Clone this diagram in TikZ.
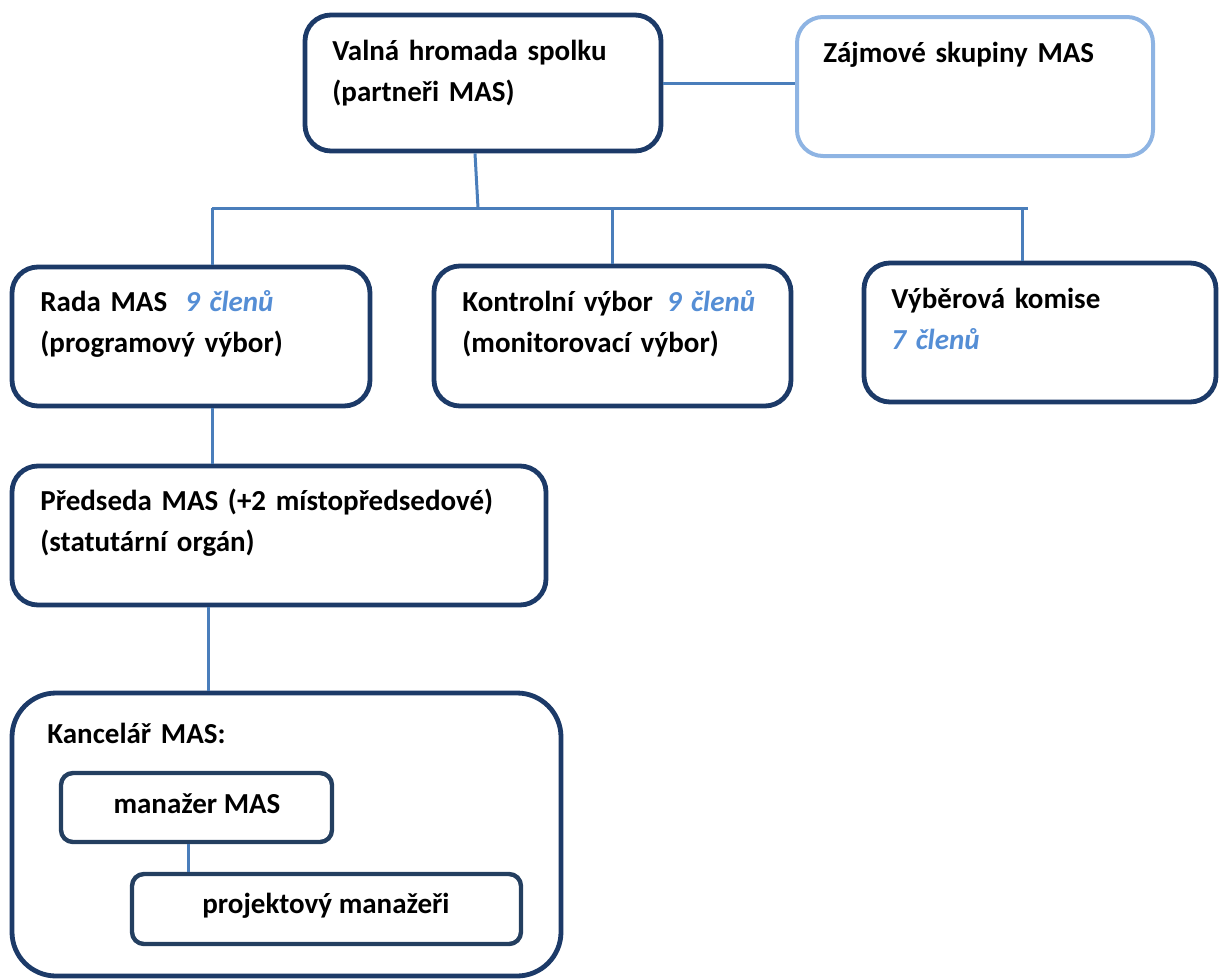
\documentclass[tikz,border=0pt]{standalone}
\usepackage{fontspec}
\setmainfont{Carlito}
\usepackage{xcolor}
\usepackage{tikz}
\usetikzlibrary{positioning,calc}

\definecolor{boxnavy}{HTML}{1C3A68}
\definecolor{innernavy}{HTML}{243F60}
\definecolor{linkblue}{HTML}{4A7EBB}
\definecolor{paleblue}{HTML}{8EB4E3}
\definecolor{countblue}{HTML}{558ED5}
\newcommand{\members}[1]{{\color{countblue}\itshape #1}}

\begin{document}
\begin{tikzpicture}[x=0.5pt,y=-0.5pt,
    box/.style={draw=boxnavy,line width=2.4pt,rounded corners=13pt,inner sep=0pt},
    link/.style={draw=linkblue,line width=1.5pt},
    lbl/.style={anchor=base west,inner sep=0pt,align=left,text width=300pt,
        font=\bfseries\fontsize{14.5}{20.5}\selectfont}]
\useasboundingbox (0,0) rectangle (1221,980);

% Top level
\node[box,minimum width=178pt,minimum height=68pt] (valna) at (483,83) {};
\node[box,draw=paleblue,line width=2pt,minimum width=178pt,minimum height=69.5pt] (zajmove) at (975,86.5) {};
\node[lbl] (valna_t) at (332,60) {Valná hromada spolku\\(partneři MAS)};
\node[lbl] (zajmove_t) at (823,62) {Zájmové skupiny MAS};

% Bodies of the association
\node[box,minimum width=179pt,minimum height=69.5pt] (rada) at (191,336.5) {};
\node[box,minimum width=178.5pt,minimum height=70pt] (kontrol) at (612.5,336) {};
\node[box,minimum width=176pt,minimum height=69.5pt] (vyber) at (1040,332.5) {};
\node[lbl] (rada_t) at (40,311) {Rada MAS\hspace{9pt}\members{9 členů}\\(programový výbor)};
\node[lbl] (kontrol_t) at (462,311) {Kontrolní výbor\hspace{7pt}\members{9 členů}\\(monitorovací výbor)};
\node[lbl] (vyber_t) at (891,308) {Výběrová komise\\\members{7 členů}};

% Chairman
\node[box,minimum width=267pt,minimum height=69.5pt] (predseda) at (279,535.5) {};
\node[lbl] (predseda_t) at (40,510) {Předseda MAS (+2 místopředsedové)\\(statutární orgán)};

% Office
\node[box,rounded corners=22pt,minimum width=274.5pt,minimum height=141.5pt] (kancelar) at (286.5,834.5) {};
\node[lbl] (kancelar_t) at (47,743) {Kancelář MAS:};
\node[box,draw=innernavy,line width=2.2pt,rounded corners=6pt,minimum width=135.5pt,minimum height=34.5pt] (manazer) at (196.5,807.5) {};
\node[box,draw=innernavy,line width=2.2pt,rounded corners=6pt,minimum width=194.5pt,minimum height=35pt] (projekt) at (326.5,909) {};
\node[lbl,anchor=base,text width=] (manazer_t) at (197,813) {manažer MAS};
\node[lbl,anchor=base,text width=] (projekt_t) at (326,913) {projektový manažeři};

% Connectors
\coordinate (hub) at (478,208);
\coordinate (hl) at (212,208);
\coordinate (hr) at (1028,208);
\coordinate (hv) at (1022,208);
\coordinate (kl) at (208,0);
\coordinate (ml) at (188,0);
\draw[link] (valna.east) -- (valna.east -| zajmove.west);
\draw[link] ([xshift=-4pt]valna.south) -- (hub);
\draw[link] (hl) -- (hr);
\draw[link] (hl) -- (hl |- rada.north);
\draw[link] (kontrol.north |- hub) -- (kontrol.north);
\draw[link] (hv) -- (hv |- vyber.north);
\draw[link] (hl |- rada.south) -- (hl |- predseda.north);
\draw[link] (kl |- predseda.south) -- (kl |- kancelar.north);
\draw[link] (ml |- manazer.south) -- (ml |- projekt.north);
\end{tikzpicture}
\end{document}
